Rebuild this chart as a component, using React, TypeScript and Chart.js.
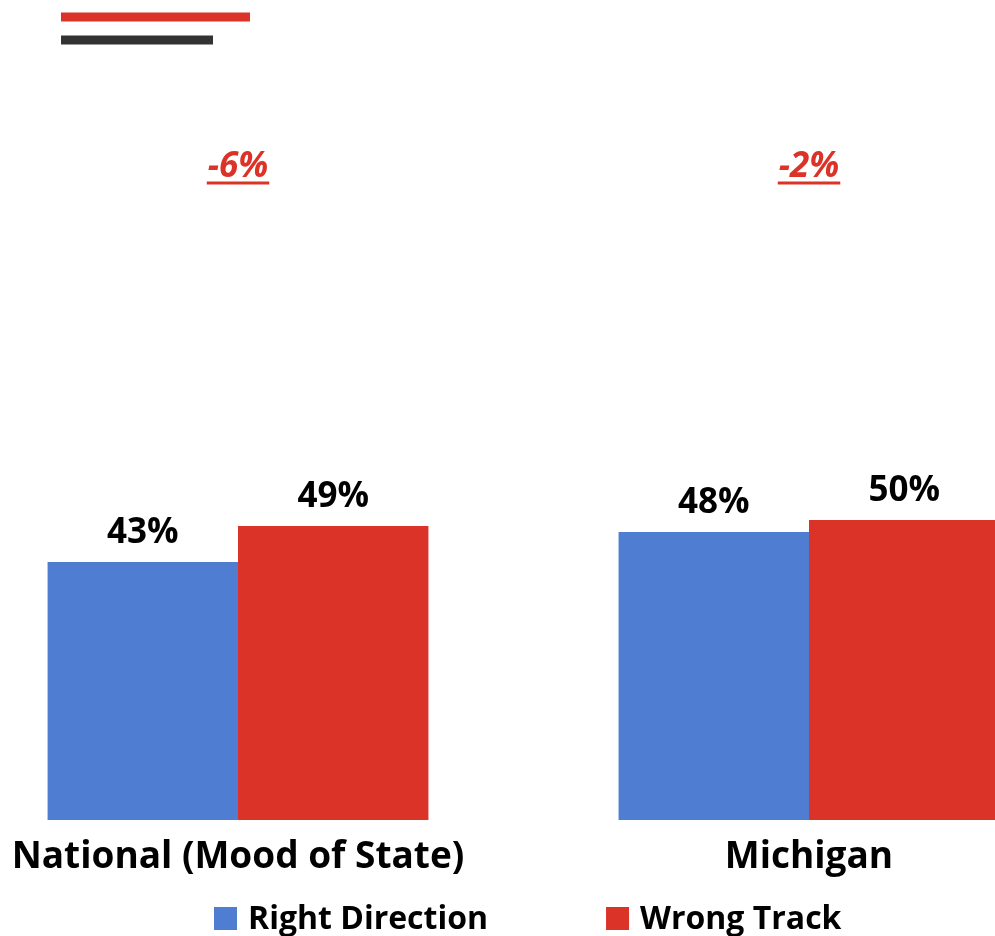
import React, { useEffect, useRef } from "react";
import { Chart, registerables } from "chart.js";

Chart.register(...registerables);

// ---- data ----
const categories = ["National (Mood of State)", "Michigan"];
const seriesNames = ["Right Direction", "Wrong Track"];
const rightDirection = [43, 48];
const wrongTrack = [49, 50];
const seriesColors = ["#4E7DD2", "#DC3328"];
const axisRange = [0, 100];

const FONT = "'Open Sans', 'Noto Sans', sans-serif";

const topLinesPlugin = {
  id: "topLines",
  afterDraw(chart: any) {
    const ctx = chart.ctx;
    ctx.save();
    ctx.fillStyle = seriesColors[1];
    ctx.fillRect(61, 12.5, 189, 9);
    ctx.fillStyle = "#333333";
    ctx.fillRect(61, 35.5, 152, 9);
    ctx.restore();
  },
};

const barLabelsPlugin = {
  id: "barLabels",
  afterDatasetsDraw(chart: any) {
    const ctx = chart.ctx;
    ctx.save();
    ctx.font = `bold 35px ${FONT}`;
    ctx.fillStyle = "#000";
    ctx.textAlign = "center";
    ctx.textBaseline = "alphabetic";
    chart.data.datasets.forEach((ds: any, di: number) => {
      const meta = chart.getDatasetMeta(di);
      meta.data.forEach((el: any, i: number) => {
        ctx.fillText(`${ds.data[i]}%`, el.x, el.y - 19);
      });
    });
    ctx.restore();
  },
};

const gapLabelsPlugin = {
  id: "gapLabels",
  afterDraw(chart: any) {
    const ctx = chart.ctx;
    const xs = chart.scales.x;
    ctx.save();
    ctx.font = `italic bold 35px ${FONT}`;
    ctx.fillStyle = seriesColors[1];
    ctx.textAlign = "center";
    ctx.textBaseline = "alphabetic";
    categories.forEach((_, i) => {
      const diff = rightDirection[i] - wrongTrack[i];
      const text = `${diff > 0 ? "+" : ""}${diff}%`;
      const x = xs.getPixelForValue(i);
      ctx.fillText(text, x, 177);
      const w = ctx.measureText(text).width;
      ctx.fillRect(x - w / 2 - 1, 181.5, w + 2, 3);
    });
    ctx.restore();
  },
};

const customLegendPlugin = {
  id: "customLegend",
  afterDraw(chart: any) {
    const ctx = chart.ctx;
    ctx.save();
    ctx.font = `bold 32px ${FONT}`;
    ctx.fillStyle = "#000";
    ctx.textBaseline = "alphabetic";
    ctx.textAlign = "left";
    let x = 214;
    const boxTop = 907;
    const box = 23;
    seriesNames.forEach((name, i) => {
      ctx.fillStyle = seriesColors[i];
      ctx.fillRect(x, boxTop, box, box);
      ctx.fillStyle = "#000";
      const tx = x + box + 11;
      ctx.fillText(name, tx, 929);
      x = tx + ctx.measureText(name).width + 118;
    });
    ctx.restore();
  },
};

export default function App() {
  const ref = useRef<HTMLCanvasElement | null>(null);
  useEffect(() => {
    document.body.style.margin = "0";
    document.body.style.overflow = "hidden";
    if (!ref.current) return;
    const chart = new Chart(ref.current, {
      type: "bar",
      data: {
        labels: categories,
        datasets: [
          {
            label: seriesNames[0],
            data: rightDirection,
            backgroundColor: seriesColors[0],
            borderWidth: 0,
            clip: false as any,
            categoryPercentage: 0.667,
            barPercentage: 1,
          },
          {
            label: seriesNames[1],
            data: wrongTrack,
            backgroundColor: seriesColors[1],
            borderWidth: 0,
            clip: false as any,
            categoryPercentage: 0.667,
            barPercentage: 1,
          },
        ],
      },
      options: {
        animation: false,
        responsive: true,
        maintainAspectRatio: false,
        layout: { padding: { left: 238, right: 186, top: 220, bottom: 56 } },
        plugins: {
          legend: { display: false },
          tooltip: { enabled: false },
        },
        scales: {
          x: {
            offset: false,
            grid: { display: false, drawTicks: false },
            border: { display: false },
            ticks: {
              color: "#000",
              font: { family: FONT, size: 37, weight: "bold" },
              padding: 15,
              maxRotation: 0,
              autoSkip: false,
            },
            afterFit: (scale: any) => {
              scale.paddingLeft = 0;
              scale.paddingRight = 0;
              scale.height = 60;
            },
          },
          y: {
            display: false,
            min: axisRange[0],
            max: axisRange[1],
          },
        },
      },
      plugins: [topLinesPlugin, barLabelsPlugin, gapLabelsPlugin, customLegendPlugin],
    });
    return () => chart.destroy();
  }, []);
  return (
    <div style={{ width: 995, height: 936, position: "relative" }}>
      <canvas ref={ref} />
    </div>
  );
}
